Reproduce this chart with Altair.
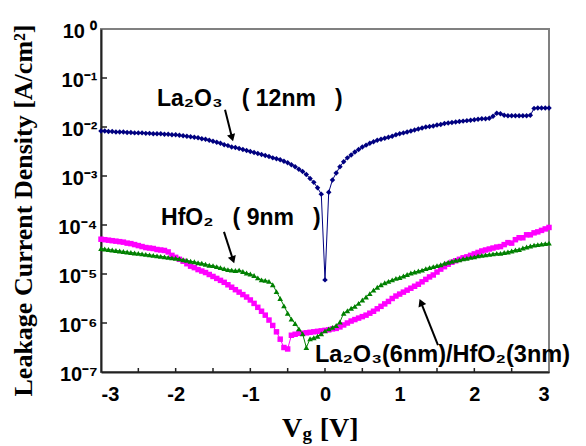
import altair as alt
import pandas as pd

# ---------------- data ----------------
voltage = [round(-3 + 0.05 * i, 2) for i in range(121)]

# log10 of leakage current density (A/cm^2)
la2o3_log = [
    -2.08, -2.08, -2.09, -2.09, -2.10, -2.10, -2.10, -2.11, -2.11, -2.12,
    -2.12, -2.12, -2.13, -2.13, -2.14, -2.14, -2.14, -2.15, -2.15, -2.16,
    -2.16, -2.17, -2.18, -2.19, -2.20, -2.21, -2.22, -2.24, -2.25, -2.27,
    -2.29, -2.31, -2.33, -2.36, -2.38, -2.41, -2.42, -2.44, -2.46, -2.48,
    -2.50, -2.52, -2.54, -2.56, -2.58, -2.60, -2.63, -2.65, -2.67, -2.70,
    -2.73, -2.77, -2.81, -2.86, -2.91, -2.97, -3.05, -3.13, -3.24, -3.37,
    -5.12,
    -3.33, -3.08, -2.94, -2.81, -2.71, -2.63, -2.57, -2.51, -2.46, -2.41,
    -2.37, -2.33, -2.30, -2.27, -2.25, -2.23, -2.21, -2.19, -2.16, -2.14,
    -2.12, -2.10, -2.08, -2.06, -2.04, -2.02, -2.00, -1.99, -1.98, -1.96,
    -1.95, -1.93, -1.92, -1.91, -1.90, -1.89, -1.88, -1.87, -1.86, -1.85,
    -1.84, -1.83, -1.83, -1.82, -1.78, -1.72, -1.73, -1.76, -1.77, -1.77,
    -1.77, -1.77, -1.77, -1.77, -1.76, -1.62, -1.61, -1.61, -1.61, -1.61,
]

hfo2_log = [
    -4.48, -4.49, -4.50, -4.51, -4.52, -4.53, -4.54, -4.55, -4.56, -4.57,
    -4.58, -4.59, -4.60, -4.61, -4.62, -4.63, -4.64, -4.65, -4.66, -4.67,
    -4.68, -4.69, -4.71, -4.72, -4.74, -4.75, -4.77, -4.78, -4.80, -4.82,
    -4.83, -4.85, -4.87, -4.89, -4.91, -4.92, -4.93, -4.92, -4.95, -4.98,
    -5.00, -5.03, -5.08, -5.12, -5.13, -5.15, -5.22, -5.36, -5.50, -5.65,
    -5.80, -5.92, -6.01, -6.12, -6.22, -6.50, -6.32, -6.30, -6.27, -6.22,
    -6.16,
    -6.12, -6.09, -6.05, -5.98, -5.80, -5.75, -5.70, -5.66, -5.60, -5.53,
    -5.47, -5.40, -5.33, -5.27, -5.22, -5.18, -5.15, -5.12, -5.09, -5.07,
    -5.04, -5.01, -4.98, -4.96, -4.94, -4.92, -4.89, -4.87, -4.85, -4.83,
    -4.81, -4.78, -4.76, -4.74, -4.72, -4.71, -4.69, -4.68, -4.66, -4.65,
    -4.63, -4.62, -4.61, -4.60, -4.59, -4.58, -4.58, -4.56, -4.55, -4.53,
    -4.51, -4.50, -4.47, -4.45, -4.43, -4.41, -4.40, -4.39, -4.38, -4.37,
]

stack_log = [
    -4.29, -4.30, -4.31, -4.32, -4.33, -4.34, -4.35, -4.37, -4.38, -4.40,
    -4.42, -4.44, -4.46, -4.47, -4.48, -4.50, -4.51, -4.52, -4.55, -4.62,
    -4.66, -4.70, -4.74, -4.79, -4.84, -4.87, -4.91, -4.94, -4.97, -5.01,
    -5.05, -5.09, -5.13, -5.17, -5.22, -5.27, -5.32, -5.37, -5.42, -5.47,
    -5.53, -5.60, -5.68, -5.76, -5.84, -5.94, -6.05, -6.18, -6.33, -6.50,
    -6.53, -6.25, -6.23, -6.21, -6.21, -6.20, -6.19, -6.18, -6.17, -6.16,
    -6.15,
    -6.14, -6.12, -6.11, -6.08, -6.04, -6.00, -5.96, -5.93, -5.90, -5.87,
    -5.84, -5.80, -5.76, -5.71, -5.66, -5.61, -5.56, -5.50, -5.45, -5.41,
    -5.37, -5.33, -5.29, -5.25, -5.21, -5.16, -5.11, -5.06, -5.02, -4.96,
    -4.90, -4.85, -4.80, -4.76, -4.73, -4.70, -4.67, -4.65, -4.62, -4.59,
    -4.56, -4.53, -4.51, -4.49, -4.47, -4.45, -4.44, -4.40, -4.36, -4.37,
    -4.30, -4.26, -4.26, -4.20, -4.20, -4.16, -4.14, -4.11, -4.08, -4.05,
]

x_tick_labels = [-3, -2, -1, 0, 1, 2, 3]
x_minor_ticks = [-2.5, -2, -1.5, -1, -0.5, 0, 0.5, 1, 1.5, 2, 2.5]
y_decades = [1e-7, 1e-6, 1e-5, 1e-4, 1e-3, 1e-2, 1e-1, 1]
y_tick_labels = ["10\u00a0⁰", "10⁻¹", "10⁻²", "10⁻³", "10⁻⁴", "10⁻⁵", "10⁻⁶", "10⁻⁷"]

# annotations: text, x (V), log10(J), font size  (non-breaking spaces keep the gaps)
NB = "\u00a0"
ann_text = ["La₂O₃" + NB * 3 + "(" + NB + "12nm" + NB * 3 + ")",
            "HfO₂" + NB * 3 + "(" + NB + "9nm" + NB * 3 + ")",
            "La₂O₃(6nm)/HfO₂(3nm)"]
ann_x = [-2.25, -2.196, -0.134]
ann_logy = [-1.43, -3.85, -6.65]
ann_size = [23, 23, 23.5]

# arrows: start (x, log y) -> tip (x, log y), head angle
arrow_x1 = [-1.339, -1.353, 1.513]
arrow_ly1 = [-1.65, -4.14, -6.45]
arrow_x2 = [-1.245, -1.232, 1.285]
arrow_ly2 = [-2.22, -4.71, -5.58]
arrow_angle = [164, 161, 337]

SANS = "Liberation Sans"
SERIF = "Liberation Serif"
W, H = 448, 343

def series_df(vals):
    return pd.DataFrame({"Vg": voltage, "J": [10 ** v for v in vals]})

xscale = alt.Scale(domain=[-3, 3], nice=False)
yscale = alt.Scale(type="log", domain=[1e-7, 1], nice=False)

label_expr = "[" + ",".join("'%s'" % s for s in y_tick_labels) + "][round(-log(datum.value)/LN10)]"

x_axis = alt.Axis(values=x_tick_labels, labelExpr="(datum.value < 0 ? '-' : '') + abs(datum.value)",
                  title=None, grid=False,
                  tickSize=0, labelFont=SANS, labelFontWeight="bold", labelFontSize=20,
                  labelColor="black", labelPadding=12, domainColor="#222222", domainWidth=2)
y_axis = alt.Axis(values=y_decades, labelExpr=label_expr, grid=False, tickSize=0,
                  labelFont=SANS, labelFontWeight="bold", labelFontSize=20, labelColor="black",
                  labelPadding=4, labelOffset=2, domainColor="#222222", domainWidth=2,
                  title="Leakage Current Density [A/cm²]", titleFont=SERIF, titleFontWeight="bold",
                  titleFontSize=26, titleColor="black", titleAngle=-90, titleX=-78, titleY=181,
                  titleAlign="center", titleBaseline="middle")

def series_layers(vals, color, shape, size):
    df = series_df(vals)
    line = alt.Chart(df).mark_line(color=color, strokeWidth=1).encode(x="Vg:Q", y="J:Q")
    pts = alt.Chart(df).mark_point(filled=True, shape=shape, size=size, color=color,
                                   opacity=1).encode(x="Vg:Q", y="J:Q")
    return [line, pts]

# base layer carrying the axes
base = alt.Chart(pd.DataFrame({"Vg": [-3, 3], "J": [1e-7, 1]})).mark_point(opacity=0).encode(
    x=alt.X("Vg:Q", scale=xscale, axis=x_axis),
    y=alt.Y("J:Q", scale=yscale, axis=y_axis))

layers = [base]
layers += series_layers(stack_log, "#FF00FF", "square", 30)
layers += series_layers(hfo2_log, "#008000", "triangle-up", 32)
layers += series_layers(la2o3_log, "#000080", "diamond", 30)

# inner ticks
xt = alt.Chart(pd.DataFrame({"Vg": x_minor_ticks})).mark_rule(color="#222222", strokeWidth=1.5).encode(
    x="Vg:Q", y=alt.value(H), y2=alt.value(H - 4))
yt = alt.Chart(pd.DataFrame({"J": y_decades[1:-1]})).mark_rule(color="#222222", strokeWidth=1.5).encode(
    y="J:Q", x=alt.value(0), x2=alt.value(6))
layers += [xt, yt]

# annotations
ann_df = pd.DataFrame({"Vg": ann_x, "J": [10 ** v for v in ann_logy], "t": ann_text, "s": ann_size})
ann = alt.Chart(ann_df).mark_text(font=SANS, fontWeight="bold", color="black",
                                  align="left", baseline="middle").encode(
    x="Vg:Q", y="J:Q", text="t:N", size=alt.Size("s:Q", scale=None, legend=None))
arr_df = pd.DataFrame({"Vg": arrow_x1, "J": [10 ** v for v in arrow_ly1],
                       "Vg2": arrow_x2, "J2": [10 ** v for v in arrow_ly2], "a": arrow_angle})
arr = alt.Chart(arr_df).mark_rule(color="black", strokeWidth=2).encode(
    x="Vg:Q", y="J:Q", x2="Vg2:Q", y2="J2:Q")
heads = alt.Chart(arr_df).mark_point(shape="triangle-up", filled=True, color="black", size=70,
                                     opacity=1).encode(x="Vg2:Q", y="J2:Q",
                                                       angle=alt.Angle("a:Q", scale=None))
layers += [arr, heads, ann]

# x title "Vg [V]"
xt_df = pd.DataFrame({"Vg": [-0.576, -0.30, -0.07], "J": [10 ** -8.327, 10 ** -8.39, 10 ** -8.327],
                      "t": ["V", "g", "[V]"], "s": [28, 19, 28]})
xtitle = alt.Chart(xt_df).mark_text(font=SERIF, fontWeight="bold", color="black", align="left",
                                    baseline="alphabetic").encode(
    x="Vg:Q", y="J:Q", text="t:N", size=alt.Size("s:Q", scale=None, legend=None))
layers.append(xtitle)

chart = alt.layer(*layers).properties(
    width=W, height=H,
    autosize=alt.AutoSizeParams(type="none"),
    padding={"left": 93, "top": 21, "right": 26, "bottom": 72},
    background="white",
).configure_view(stroke="#808080", strokeWidth=2)

chart.save("out.html", embed_options={"renderer": "svg", "actions": False})
